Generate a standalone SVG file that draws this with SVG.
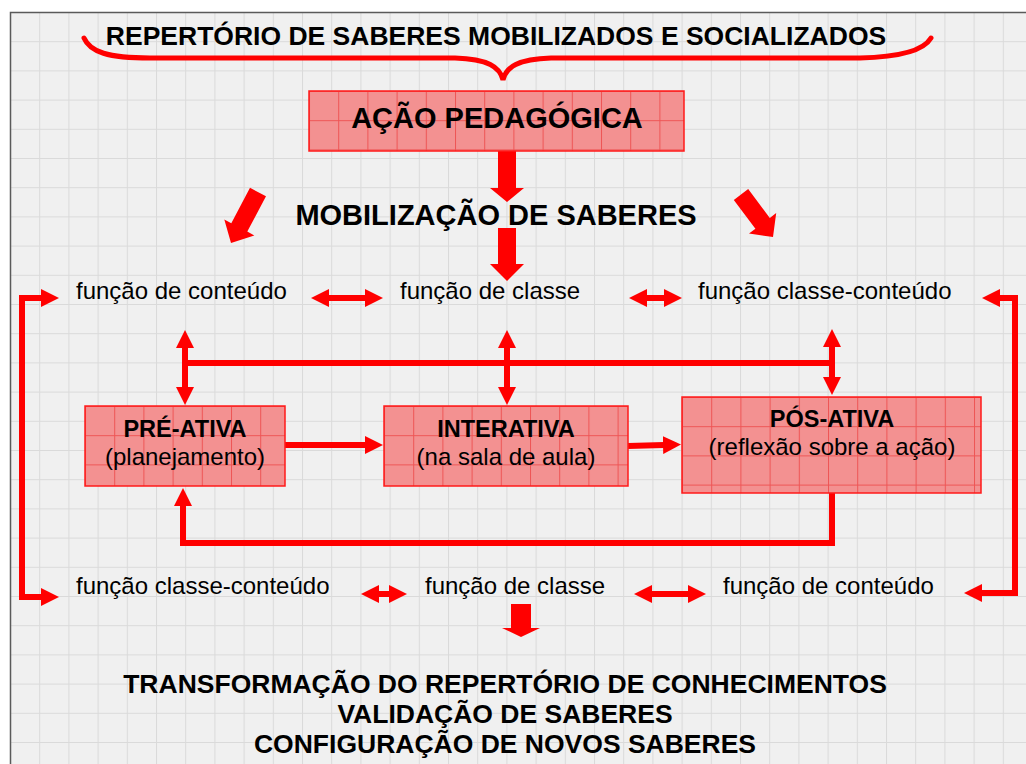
<svg xmlns="http://www.w3.org/2000/svg" width="1026" height="764" viewBox="0 0 1026 764">
  <style>
    text { font-family: "Liberation Sans", Arial, Helvetica, sans-serif; fill: #000; }
    .h { font-weight: bold; font-size: 26.5px; text-anchor: middle; }
    .h29 { font-weight: bold; font-size: 29px; text-anchor: middle; }
    .lbl { font-size: 24px; }
    .bt { font-weight: bold; font-size: 23.5px; text-anchor: middle; }
    .bs { font-size: 24px; text-anchor: middle; }
    .box { fill: url(#boxgrid); stroke: #ff1a1a; stroke-width: 1.5; }
    .ln { fill: none; stroke: #ff0000; stroke-width: 6; stroke-linejoin: miter; }
    .dbl { marker-start: url(#ah); marker-end: url(#ah); }
    .end { marker-end: url(#ah); }
    .blk { fill: #ff0000; }
  </style>
  <defs>
    <pattern id="bggrid" patternUnits="userSpaceOnUse" x="10" y="12" width="29.2" height="29.2">
      <rect width="29.2" height="29.2" fill="#f0f0f0"/>
      <path d="M0,0.5 H29.2 M0.5,0 V29.2" stroke="#dadada" stroke-width="1" fill="none"/>
    </pattern>
    <pattern id="boxgrid" patternUnits="userSpaceOnUse" x="0" y="0" width="29.2" height="29.2">
      <rect width="29.2" height="29.2" fill="#f39191"/>
      <path d="M0,0.5 H29.2 M0.5,0 V29.2" stroke="#ee5555" stroke-width="1" fill="none"/>
    </pattern>
    <marker id="ah" markerUnits="userSpaceOnUse" viewBox="0 0 18 18" markerWidth="18" markerHeight="18" refX="1" refY="9" orient="auto-start-reverse">
      <path d="M0,0 L18,9 L0,18 z" fill="#ff0000"/>
    </marker>
  </defs>

  <!-- background -->
  <rect x="0" y="0" width="1026" height="764" fill="#ffffff"/>
  <rect x="10.5" y="12.5" width="1030" height="770" fill="url(#bggrid)" stroke="#5a5a5a" stroke-width="1.5"/>

  <!-- title with brace -->
  <g id="titulo">
    <text class="h" x="496" y="45">REPERTÓRIO DE SABERES MOBILIZADOS E SOCIALIZADOS</text>
  </g>

  <g id="connectors">
    <!-- brace -->
    <path d="M84,38 C90,52 108,58 150,58 L455,58 C488,59 500,67 503,80 C506,67 518,59 551,58 L860,58 C902,57 924,50 931,38" fill="none" stroke="#ff0000" stroke-width="5" stroke-linecap="round" stroke-linejoin="miter"/>

    <!-- block arrows -->
    <polygon class="blk" points="498,151 516,151 516,188 524,188 507,202 490,188 498,188"/>
    <polygon class="blk" points="498,228 516,228 516,264 524,264 507,281 490,264 498,264"/>
    <polygon class="blk" points="250,187.8 266,196.2 247.3,231.6 254.3,235.4 231,243 224.3,219.4 231.3,223.2"/>
    <polygon class="blk" points="733.8,199.9 748.2,189.1 769.8,217.9 776.2,213.1 773,237 749,233.5 755.4,228.7"/>
    <polygon class="blk" points="511,604 531,604 531,628 540,628 521,637 502,628 511,628"/>

    <!-- row 1 double arrows -->
    <line class="ln dbl" x1="328" y1="298" x2="366" y2="298"/>
    <line class="ln dbl" x1="646" y1="298" x2="665" y2="298"/>
    <!-- row 2 double arrows -->
    <line class="ln dbl" x1="378" y1="594" x2="390" y2="594"/>
    <line class="ln dbl" x1="651" y1="594" x2="689" y2="594"/>

    <!-- side brackets -->
    <path class="ln dbl" d="M42,298 H22 V597 H42"/>
    <path class="ln dbl" d="M981,593 H1015 V298 H999"/>

    <!-- vertical double arrows and connecting bar -->
    <line class="ln" x1="182" y1="363" x2="835" y2="363"/>
    <line class="ln dbl" x1="185" y1="347" x2="185" y2="388"/>
    <line class="ln dbl" x1="507" y1="347" x2="507" y2="388"/>
    <line class="ln dbl" x1="832" y1="346" x2="832" y2="378"/>

    <!-- box to box -->
    <line class="ln end" x1="285" y1="445" x2="366" y2="445"/>
    <line class="ln end" x1="628" y1="446" x2="664" y2="445"/>

    <!-- feedback loop -->
    <path class="ln end" d="M832,493 V543 H183 V505"/>
  </g>

  <g id="acao-pedagogica" transform="translate(309,91)">
    <rect class="box" x="0" y="0" width="375" height="60" stroke-width="2.5"/>
    <text class="h29" x="188" y="37">AÇÃO PEDAGÓGICA</text>
  </g>

  <g id="mobilizacao">
    <text class="h29" x="496" y="225">MOBILIZAÇÃO DE SABERES</text>
  </g>

  <g id="f1-conteudo"><text class="lbl" x="76" y="299">função de conteúdo</text></g>
  <g id="f1-classe"><text class="lbl" x="400" y="299">função de classe</text></g>
  <g id="f1-classe-conteudo"><text class="lbl" x="698" y="299">função classe-conteúdo</text></g>

  <g id="pre-ativa" transform="translate(85,406)">
    <rect class="box" x="0" y="0" width="200" height="80"/>
    <text class="bt" x="100" y="31">PRÉ-ATIVA</text>
    <text class="bs" x="100" y="59">(planejamento)</text>
  </g>

  <g id="interativa" transform="translate(384,406)">
    <rect class="box" x="0" y="0" width="244" height="80"/>
    <text class="bt" x="122" y="31">INTERATIVA</text>
    <text class="bs" x="122" y="59">(na sala de aula)</text>
  </g>

  <g id="pos-ativa" transform="translate(682,397)">
    <rect class="box" x="0" y="0" width="299" height="96"/>
    <text class="bt" x="150" y="30">PÓS-ATIVA</text>
    <text class="bs" x="150" y="58">(reflexão sobre a ação)</text>
  </g>

  <g id="f2-classe-conteudo"><text class="lbl" x="76" y="594">função classe-conteúdo</text></g>
  <g id="f2-classe"><text class="lbl" x="425" y="594">função de classe</text></g>
  <g id="f2-conteudo"><text class="lbl" x="723" y="594">função de conteúdo</text></g>

  <g id="resultado">
    <text class="h" x="505" y="693">TRANSFORMAÇÃO DO REPERTÓRIO DE CONHECIMENTOS</text>
    <text class="h" x="505" y="723">VALIDAÇÃO DE SABERES</text>
    <text class="h" x="505" y="753">CONFIGURAÇÃO DE NOVOS SABERES</text>
  </g>
</svg>
